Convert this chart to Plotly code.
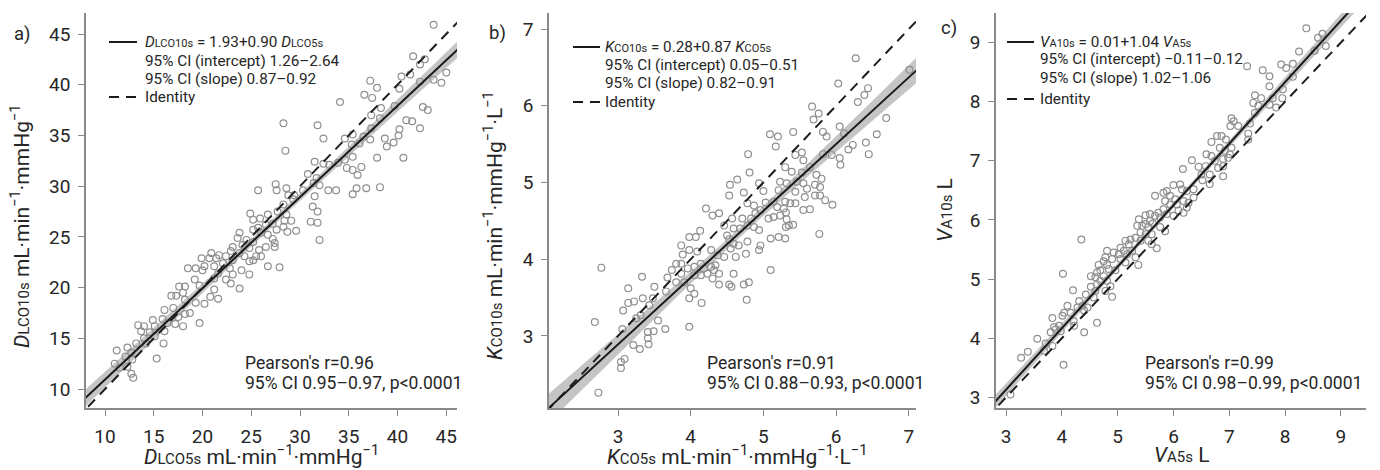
import numpy as np
import plotly.graph_objects as go

# ---- data: single-breath measurements, 10 s vs 5 s breath-hold ----
a_x = [43.7,41.6,42.3,42.8,40.4,41.3,45.0,44.5,43.7,42.3, 37.2,37.9,40.2,36.6,37.4,34.1,38.3,39.7,42.6,43.1,
       37.3,38.2,40.9,41.5,42.3,40.2,37.3,37.2,38.7,40.1, 39.6,38.9,34.6,35.4,36.5,35.3,36.1,28.3,31.8,32.4,
       28.5,37.9,40.6,35.4,34.6,34.8,36.3,35.4,35.9,33.9, 33.0,31.5,32.4,30.8,31.7,31.4,32.0,32.9,33.7,35.8,
       36.8,38.2,35.4,25.7,27.5,27.6,28.6,28.8,29.4,30.3, 31.5,31.3,31.8,29.3,28.3,27.7,28.6,24.9,25.9,26.7,
       25.2,26.5,27.2,28.4,29.1,31.1,31.8,27.6,28.3,29.6, 28.7,32.0,25.7,25.2,26.0,26.7,27.2,27.4,26.5,27.4,
       23.8,23.6,24.5,25.2,24.1,24.8,25.8,25.5,26.0,23.1, 22.9,23.8,24.3,24.8,25.2,23.1,22.4,21.7,20.9,21.4,
       20.7,19.9,22.1,22.8,24.0,26.7,27.9,21.2,20.2,18.5, 19.3,20.0,21.6,23.1,24.8,19.2,21.2,22.4,22.9,23.8,
       19.7,21.2,17.6,18.2,18.0,16.8,17.3,18.2,20.8,21.6, 19.3,20.2,17.0,16.1,18.2,18.7,17.5,14.9,15.9,16.4,
       17.2,18.0,19.7,13.4,14.0,15.1,13.7,14.6,16.1,14.0, 15.1,13.2,14.2,16.0,12.3,11.2,12.7,12.1,12.8,15.3,
       11.0,11.5,12.3,12.7,12.9]
a_y = [45.9,42.8,42.0,42.5,40.8,41.0,41.2,40.2,40.5,40.3, 40.4,39.7,39.6,39.0,38.7,38.3,37.7,37.9,37.8,37.5,
       37.0,36.7,36.5,36.4,35.7,35.6,35.7,34.6,34.7,35.0, 34.3,33.9,34.7,35.1,34.9,34.1,34.2,36.2,36.0,34.7,
       33.5,32.8,32.8,32.9,32.6,31.8,31.9,31.6,31.1,32.3, 32.1,32.4,32.2,31.2,30.8,30.3,30.1,29.6,29.6,29.8,
       29.8,29.9,29.2,29.6,30.2,29.6,29.8,29.1,29.1,29.6, 29.0,28.0,27.5,28.7,28.2,27.5,27.2,27.3,26.8,27.2,
       26.7,26.2,26.3,26.6,26.6,26.5,26.4,25.7,26.0,25.6, 25.5,24.7,25.9,25.7,25.4,25.2,24.8,24.4,24.0,24.0,
       25.4,24.9,24.7,24.5,24.2,23.9,23.7,23.1,23.1,24.0, 23.6,23.4,23.1,22.6,22.7,22.7,23.1,23.2,23.4,22.9,
       22.9,22.9,22.4,21.9,21.7,22.1,22.0,22.1,22.1,21.9, 21.9,21.7,21.4,21.3,21.3,20.8,20.9,20.8,20.4,19.9,
       20.2,19.8,20.1,20.1,19.5,19.2,19.2,18.8,19.1,18.9, 18.5,18.4,18.0,17.8,17.4,17.5,17.1,16.8,16.9,16.5,
       16.4,16.2,16.5,16.3,16.2,16.2,15.7,15.6,15.7,15.0, 15.2,14.5,14.5,14.5,14.1,13.8,13.6,13.2,12.9,13.0,
       12.5,12.1,12.2,11.5,11.1]

b_x = [6.27,7.01,6.03,6.44,6.39,6.30,5.67,5.76,6.69,5.69, 6.05,6.11,5.82,5.87,5.41,5.09,5.20,6.56,5.17,6.23,
       6.17,6.41,6.45,4.79,5.44,5.53,5.55,5.82,5.94,6.05, 6.06,5.30,5.39,5.53,5.64,5.73,5.80,4.81,4.64,4.54,
       4.73,4.53,4.94,5.00,5.23,5.32,5.21,5.46,5.44,5.55, 5.60,5.71,5.78,5.78,5.71,5.57,5.85,5.95,4.78,4.87,
       5.03,5.14,5.19,5.30,5.37,5.44,5.55,5.64,5.28,5.31, 5.23,5.14,5.07,4.96,4.89,4.83,5.32,5.35,5.41,5.31,
       4.21,4.30,4.39,4.57,4.71,4.46,4.59,4.68,4.78,4.87, 4.94,4.78,4.50,4.53,4.59,4.66,4.55,4.96,4.94,5.10,
       5.21,5.30,5.77,4.13,4.07,3.98,3.87,3.98,3.89,4.09, 4.28,4.37,4.46,4.62,4.76,3.80,3.87,3.96,4.05,4.14,
       4.18,4.28,4.32,4.23,4.14,4.05,3.87,3.74,4.39,4.34, 4.59,5.10,4.30,3.68,3.80,3.91,3.33,4.39,4.53,4.56,
       4.73,4.80,2.77,3.50,3.66,4.00,4.05,3.98,3.34,3.48, 3.43,3.14,3.14,3.22,4.15,4.77,3.07,3.25,3.31,3.55,
       3.65,2.68,3.06,3.41,3.49,3.98,3.41,3.42,3.21,3.30, 3.09,3.04,3.04,2.73]
b_y = [6.62,6.47,6.29,6.23,6.14,6.05,5.99,5.90,5.84,5.82, 5.73,5.64,5.66,5.60,5.66,5.63,5.60,5.63,5.47,5.49,
       5.43,5.52,5.37,5.37,5.36,5.39,5.29,5.37,5.36,5.32, 5.23,5.20,5.14,5.13,5.20,5.10,5.05,5.13,5.04,4.97,
       4.87,4.83,4.99,4.89,5.01,4.99,4.90,5.01,4.88,4.99, 4.92,4.97,4.94,4.83,4.83,4.81,4.77,4.71,4.73,4.70,
       4.74,4.75,4.68,4.75,4.73,4.73,4.64,4.65,4.66,4.61, 4.57,4.55,4.53,4.64,4.60,4.53,4.52,4.44,4.45,4.42,
       4.66,4.57,4.60,4.53,4.53,4.44,4.40,4.40,4.44,4.42, 4.38,4.23,4.31,4.26,4.20,4.18,4.14,4.18,4.12,4.27,
       4.29,4.27,4.33,4.37,4.29,4.29,4.18,4.12,4.06,4.10, 4.12,4.05,4.03,4.03,4.07,3.94,3.94,3.88,3.90,3.94,
       3.88,3.90,3.86,3.81,3.79,3.79,3.81,3.86,3.81,3.92, 3.81,3.86,3.75,3.76,3.70,3.70,3.77,3.67,3.67,3.64,
       3.67,3.70,3.89,3.64,3.58,3.62,3.55,3.49,3.49,3.49, 3.40,3.62,3.43,3.45,3.43,3.47,3.33,3.23,3.27,3.20,
       3.09,3.18,3.09,3.05,3.06,3.12,2.97,2.89,2.88,2.83, 2.70,2.66,2.58,2.26]

c_x = [8.38,8.59,8.67,8.73,8.53,8.25,7.32,7.93,8.02,8.14, 7.60,7.72,8.14,7.72,7.96,7.46,7.57,7.78,7.95,7.43,
       7.52,7.72,7.84,7.46,7.37,7.04,7.08,7.16,7.02,7.34, 7.34,6.78,6.86,6.94,6.68,6.83,6.92,7.04,7.01,6.59,
       6.68,6.74,6.89,6.98,6.89,6.80,6.89,6.33,6.17,6.45, 6.58,6.50,6.65,6.52,6.65,6.00,6.12,6.15,6.24,6.36,
       5.88,5.82,5.67,5.94,6.03,5.85,5.94,6.06,6.18,6.27, 6.24,6.36,6.09,6.18,5.82,5.73,5.88,5.76,6.00,5.58,
       5.67,5.50,5.38,5.58,5.44,5.35,5.50,5.55,5.63,5.76, 5.85,5.61,5.50,5.41,5.32,5.41,5.55,5.70,5.61,5.23,
       5.14,5.20,5.05,5.11,5.26,5.17,5.32,5.02,4.93,4.81, 4.78,4.90,5.05,5.14,5.37,4.35,4.75,4.81,4.66,4.69,
       4.84,4.96,4.63,4.52,4.60,4.75,4.69,4.81,4.87,4.63, 4.52,4.60,4.78,4.90,4.43,4.57,4.02,4.20,4.31,4.37,
       4.28,4.40,4.46,4.63,4.10,4.04,4.01,4.16,4.21,4.22, 4.40,3.83,3.86,3.89,3.95,3.98,3.80,3.56,3.71,3.68,
       3.83,3.39,3.27,4.03,3.08]
c_y = [9.24,9.08,9.15,8.94,8.86,8.85,8.60,8.63,8.57,8.64, 8.53,8.43,8.42,8.26,8.21,8.11,8.06,8.06,8.06,7.98,
       7.93,7.95,7.90,7.81,7.63,7.72,7.67,7.59,7.59,7.46, 7.36,7.42,7.42,7.36,7.32,7.22,7.17,7.22,7.11,7.11,
       7.08,7.00,7.03,7.05,6.91,6.88,6.74,7.01,6.86,6.90, 6.91,6.77,6.77,6.67,6.61,6.59,6.60,6.52,6.49,6.52,
       6.49,6.46,6.41,6.41,6.35,6.32,6.26,6.26,6.32,6.29, 6.21,6.38,6.16,6.12,6.18,6.12,6.10,6.04,6.07,6.10,
       6.07,6.08,6.01,5.98,5.90,5.90,5.93,5.88,5.94,5.88, 5.81,5.76,5.76,5.79,5.70,5.65,5.65,5.52,5.59,5.67,
       5.65,5.59,5.53,5.48,5.48,5.42,5.37,5.42,5.45,5.48, 5.37,5.34,5.34,5.28,5.24,5.67,5.30,5.24,5.24,5.15,
       5.17,5.15,5.11,5.05,5.03,5.05,4.97,4.97,4.88,4.91, 4.87,4.80,4.80,4.70,4.74,4.69,5.09,4.81,4.63,4.55,
       4.52,4.47,4.52,4.26,4.55,4.43,4.38,4.43,4.29,4.21, 4.10,4.34,4.19,4.15,4.21,4.12,4.10,3.99,3.91,3.79,
       3.87,3.77,3.67,3.55,3.05]

# regression fits (intercept, slope) as reported
fit_a = (1.93, 0.90)
fit_b = (0.28, 0.87)
fit_c = (0.01, 1.04)

# axis ranges and tick values
range_a = ([8.05, 46.1], [8.13, 47.07])
range_b = ([2.05, 7.10], [2.06, 7.21])
range_c = ([2.82, 9.45], [2.82, 9.50])
ticks_a = [10, 15, 20, 25, 30, 35, 40, 45]
ticks_b = [3, 4, 5, 6, 7]
ticks_c = [3, 4, 5, 6, 7, 8, 9]

W, H = 1380, 470
FONT = "Roboto"
TXT = "#262626"
AX = "#8a8a8a"
PT = "#8f8f8f"


def fx(p):
    return p / W


def fy(p):
    return 1 - p / H


y_dom = [fy(408), fy(13)]
x_doms = [[fx(86), fx(457)], [fx(549), fx(916)], [fx(996), fx(1366)]]

fig = go.Figure()

panels = [
    (a_x, a_y, fit_a, range_a, ticks_a, ""),
    (b_x, b_y, fit_b, range_b, ticks_b, "2"),
    (c_x, c_y, fit_c, range_c, ticks_c, "3"),
]

for (xs, ys, (b0, b1), (xr, yr), tv, sfx), dom in zip(panels, x_doms):
    xs = np.asarray(xs, float)
    ys = np.asarray(ys, float)
    n = min(len(xs), len(ys))
    xs, ys = xs[:n], ys[:n]
    xa, ya = "x" + sfx, "y" + sfx

    # confidence band of the fitted line
    res = ys - (b0 + b1 * xs)
    s = np.sqrt(np.sum(res ** 2) / (n - 2))
    xm = xs.mean()
    sxx = np.sum((xs - xm) ** 2)
    gx = np.linspace(xr[0] - 0.5, xr[1] + 0.5, 120)
    half = 1.97 * s * np.sqrt(1.0 / n + (gx - xm) ** 2 / sxx)
    fitted = b0 + b1 * gx
    fig.add_trace(go.Scatter(x=gx, y=fitted - half, mode="lines", line=dict(width=0),
                             xaxis=xa, yaxis=ya, showlegend=False, hoverinfo="skip"))
    fig.add_trace(go.Scatter(x=gx, y=fitted + half, mode="lines", line=dict(width=0),
                             fill="tonexty", fillcolor="rgba(150,150,150,0.55)",
                             xaxis=xa, yaxis=ya, showlegend=False, hoverinfo="skip"))

    # measurements
    fig.add_trace(go.Scatter(x=xs, y=ys, mode="markers",
                             marker=dict(symbol="circle-open", size=6.8, color=PT,
                                         line=dict(width=1.2, color=PT)),
                             xaxis=xa, yaxis=ya, showlegend=False, cliponaxis=True))

    # identity line
    ident = np.array([min(xr[0], yr[0]) - 1, max(xr[1], yr[1]) + 1])
    fig.add_trace(go.Scatter(x=ident, y=ident, mode="lines",
                             line=dict(color="#1e1e1e", width=2, dash="10px,7px"),
                             xaxis=xa, yaxis=ya, showlegend=False))
    # fitted line
    fig.add_trace(go.Scatter(x=gx, y=fitted, mode="lines",
                             line=dict(color="#1a1a1a", width=2),
                             xaxis=xa, yaxis=ya, showlegend=False))

    common = dict(showgrid=False, zeroline=False, showline=True, linecolor=AX, linewidth=1.5,
                  ticks="outside", ticklen=6, tickwidth=1.3, tickcolor=AX,
                  tickfont=dict(family=FONT, size=19, color=TXT), ticklabelstandoff=4,
                  tickvals=tv, automargin=False, fixedrange=True)
    fig.layout["xaxis" + sfx] = dict(domain=dom, range=xr, anchor=ya, **common)
    fig.layout["yaxis" + sfx] = dict(domain=y_dom, range=yr, anchor=xa, **common)

ann = []


def text(x, y, t, size, xanchor="left", angle=0):
    ann.append(dict(x=fx(x), y=fy(y), xref="paper", yref="paper", text=t, showarrow=False,
                    xanchor=xanchor, yanchor="middle", textangle=angle,
                    font=dict(family=FONT, size=size, color=TXT)))


def small(t, size=11):
    return "<span style='font-size:%dpx'>%s</span>" % (size, t)


M1 = "min<sup>−1</sup>"
M2 = "mmHg<sup>−1</sup>"
L1 = "L<sup>−1</sup>"

# panel letters
text(22, 34, "a)", 18.5, "center")
text(497, 33, "b)", 18.5, "center")
text(949, 28, "c)", 18.5, "center")

# axis titles
TS, SS = 21, 15
text(261, 455, "<i>D</i>" + small("LCO5s", SS) + " mL·" + M1 + "·" + M2, TS, "center")
text(20, 226, "<i>D</i>" + small("LCO10s", SS) + " mL·" + M1 + "·" + M2, TS, "center", -90)
text(737, 455, "<i>K</i>" + small("CO5s", SS) + " mL·" + M1 + "·" + M2 + "·" + L1, TS, "center")
text(493, 226, "<i>K</i>" + small("CO10s", SS) + " mL·" + M1 + "·" + M2 + "·" + L1, TS, "center", -90)
text(1181, 455, "<i>V</i>" + small("A5s", SS) + " L", TS, "center")
text(945, 210, "<i>V</i>" + small("A10s", SS) + " L", TS, "center", -90)

# legends
legends = [
    (143, [42, 61, 79, 97],
     "<i>D</i>" + small("LCO10s") + " = 1.93+0.90 <i>D</i>" + small("LCO5s"),
     "95% CI (intercept) 1.26–2.64", "95% CI (slope) 0.87–0.92", 109, 137),
    (603, [47, 65, 83, 102],
     "<i>K</i>" + small("CO10s") + " = 0.28+0.87 <i>K</i>" + small("CO5s"),
     "95% CI (intercept) 0.05–0.51", "95% CI (slope) 0.82–0.91", 573, 600),
    (1038, [42, 59, 78, 99],
     "<i>V</i>" + small("A10s") + " = 0.01+1.04 <i>V</i>" + small("A5s"),
     "95% CI (intercept) −0.11–0.12", "95% CI (slope) 1.02–1.06", 1007, 1034),
]
shapes = []
for x0, ys_, eq, ci1, ci2, l0, l1 in legends:
    text(x0, ys_[0], eq, 15.3)
    text(x0, ys_[1], ci1, 15.3)
    text(x0, ys_[2], ci2, 15.3)
    text(x0, ys_[3], "Identity", 15.3)
    shapes.append(dict(type="line", xref="paper", yref="paper", x0=fx(l0), x1=fx(l1),
                       y0=fy(ys_[0]), y1=fy(ys_[0]), line=dict(color="#1a1a1a", width=2)))
    shapes.append(dict(type="line", xref="paper", yref="paper", x0=fx(l0), x1=fx(l1),
                       y0=fy(ys_[3]), y1=fy(ys_[3]),
                       line=dict(color="#1a1a1a", width=2, dash="10px,7px")))

# correlation statistics
stats = [
    (243, "Pearson's r=0.96", "95% CI 0.95–0.97, p<0.0001"),
    (705, "Pearson's r=0.91", "95% CI 0.88–0.93, p<0.0001"),
    (1143, "Pearson's r=0.99", "95% CI 0.98–0.99, p<0.0001"),
]
for x0, l1, l2 in stats:
    text(x0, 363, l1, 17.5)
    text(x0, 383, l2, 17.5)

fig.update_layout(width=W, height=H, margin=dict(l=0, r=0, t=0, b=0),
                  paper_bgcolor="white", plot_bgcolor="white",
                  annotations=ann, shapes=shapes, showlegend=False, hovermode=False,
                  font=dict(family=FONT, color=TXT))

fig.write_html("out.html", config={"displayModeBar": False})
